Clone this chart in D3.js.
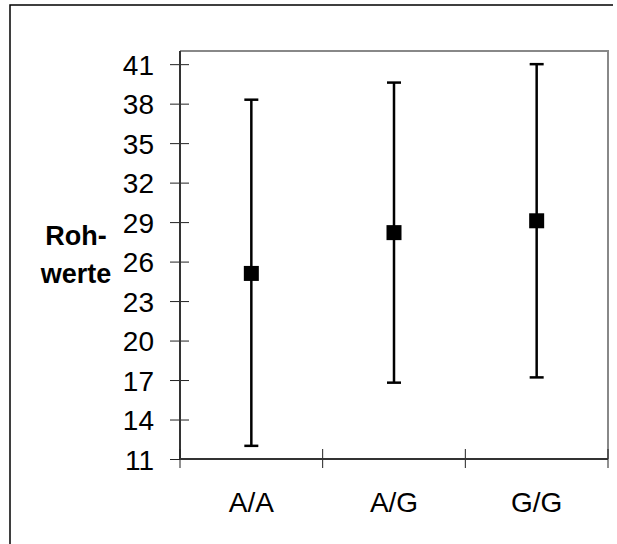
<!DOCTYPE html>
<html>
<head>
<meta charset="utf-8">
<script src="https://cdn.jsdelivr.net/npm/d3@7"></script>
<style>
  body { margin: 0; background: #fff; }
  svg text { font-family: "Liberation Sans", Arial, sans-serif; fill: #000; }
</style>
</head>
<body>
<div id="chart"></div>
<script>
const genotypes = ["A/A", "A/G", "G/G"];
const means = [25.1, 28.2, 29.1];
const upper = [38.3, 39.6, 41.0];
const lower = [12.0, 16.8, 17.2];
const yTicks = [11, 14, 17, 20, 23, 26, 29, 32, 35, 38, 41];
const titleLines = ["Roh-", "werte"];

const width = 617, height = 544;
const plot = { left: 180, top: 51, right: 608, bottom: 459 };

const svg = d3.select("#chart").append("svg")
  .attr("width", width)
  .attr("height", height);

// outer chart border (right/bottom edges fall outside the view)
svg.append("path")
  .attr("d", "M10,544V5H613")
  .attr("fill", "none")
  .attr("stroke", "#000")
  .attr("stroke-width", 1.5);

const x = d3.scaleBand()
  .domain(genotypes)
  .range([plot.left, plot.right]);

const y = d3.scaleLinear()
  .domain([11, 42])
  .range([plot.bottom, plot.top]);

// plot area frame: gray top/right
svg.append("path")
  .attr("d", `M${plot.left},${plot.top}H${plot.right}V${plot.bottom}`)
  .attr("fill", "none")
  .attr("stroke", "#888")
  .attr("stroke-width", 2);

// y axis
const yAxis = svg.append("g")
  .attr("transform", `translate(${plot.left},0)`)
  .call(d3.axisLeft(y).tickValues(yTicks).tickSize(10))
  .call((g) => g.select(".domain").remove());
yAxis.selectAll(".tick line")
  .attr("x2", 9).attr("x1", -10)
  .attr("stroke", "#222");
yAxis.selectAll(".tick text")
  .attr("font-size", 28)
  .attr("font-family", "Liberation Sans, Arial, sans-serif")
  .attr("x", -26)
  .attr("dy", "0.36em");

svg.append("line")
  .attr("x1", plot.left).attr("x2", plot.left)
  .attr("y1", plot.top).attr("y2", plot.bottom)
  .attr("stroke", "#333").attr("stroke-width", 2);

// x axis
const xTickPos = [...genotypes.map((d) => x(d)), plot.right];
svg.append("g")
  .selectAll("line")
  .data(xTickPos)
  .join("line")
  .attr("x1", (d) => d).attr("x2", (d) => d)
  .attr("y1", plot.bottom - 10).attr("y2", plot.bottom + 9)
  .attr("stroke", "#222");

svg.append("line")
  .attr("x1", plot.left).attr("x2", plot.right)
  .attr("y1", plot.bottom).attr("y2", plot.bottom)
  .attr("stroke", "#333").attr("stroke-width", 2);

svg.append("g")
  .selectAll("text")
  .data(genotypes)
  .join("text")
  .attr("x", (d) => x(d) + x.bandwidth() / 2)
  .attr("y", 512)
  .attr("text-anchor", "middle")
  .attr("font-size", 28)
  .text((d) => d);

// y title, two centred lines
svg.append("g")
  .selectAll("text")
  .data(titleLines)
  .join("text")
  .attr("x", 76)
  .attr("y", (_, i) => 245 + i * 38)
  .attr("text-anchor", "middle")
  .attr("font-size", 27)
  .attr("font-weight", "bold")
  .text((d) => d);

// error bars + mean markers
const capW = 14, sq = 15;
const bars = svg.append("g")
  .selectAll("g")
  .data(genotypes.map((g, i) => ({ g, mean: means[i], hi: upper[i], lo: lower[i] })))
  .join("g")
  .attr("transform", (d) => `translate(${x(d.g) + x.bandwidth() / 2},0)`);

bars.append("line")
  .attr("y1", (d) => y(d.lo)).attr("y2", (d) => y(d.hi))
  .attr("stroke", "#000").attr("stroke-width", 2.5);
bars.append("line")
  .attr("x1", -capW / 2).attr("x2", capW / 2)
  .attr("y1", (d) => y(d.hi)).attr("y2", (d) => y(d.hi))
  .attr("stroke", "#000").attr("stroke-width", 2.5);
bars.append("line")
  .attr("x1", -capW / 2).attr("x2", capW / 2)
  .attr("y1", (d) => y(d.lo)).attr("y2", (d) => y(d.lo))
  .attr("stroke", "#000").attr("stroke-width", 2.5);
bars.append("rect")
  .attr("x", -sq / 2).attr("width", sq)
  .attr("y", (d) => y(d.mean) - sq / 2).attr("height", sq)
  .attr("fill", "#000");
</script>
</body>
</html>
